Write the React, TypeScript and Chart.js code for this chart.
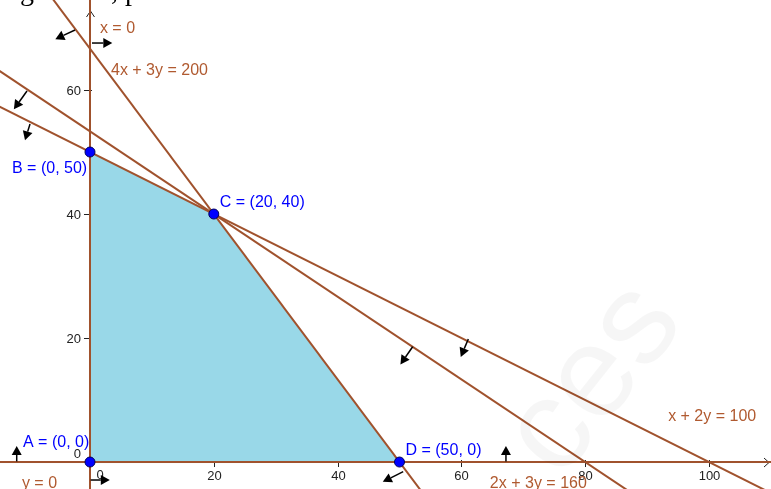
import { useEffect, useRef } from 'react';
import { Chart, registerables } from 'chart.js';

Chart.register(...registerables);

// ---- view window (data units) ----
const X_MIN = -14.54;
const X_MAX = 110.02;
const Y_MIN = -4.35;
const Y_MAX = 74.52;

// ---- axis ticks ----
const xTicks = [20, 40, 60, 80, 100];
const yTicks = [20, 40, 60];

// ---- feasible region & corners ----
const feasibleRegion = [
  { x: 0, y: 0 },
  { x: 0, y: 50 },
  { x: 20, y: 40 },
  { x: 50, y: 0 },
  { x: 0, y: 0 },
];
const cornerPoints = [
  { x: 0, y: 0 },
  { x: 0, y: 50 },
  { x: 20, y: 40 },
  { x: 50, y: 0 },
];
const cornerLabels = ['A = (0, 0)', 'B = (0, 50)', 'C = (20, 40)', 'D = (50, 0)'];

// ---- constraint lines (two far points each) ----
const lineX2Y100 = [{ x: -20, y: 60 }, { x: 120, y: -10 }];
const line2X3Y160 = [{ x: -20, y: 66.67 }, { x: 120, y: -26.67 }];
const line4X3Y200 = [{ x: -10, y: 80 }, { x: 65, y: -20 }];
const lineX0 = [{ x: 0, y: -10 }, { x: 0, y: 80 }];
const lineY0 = [{ x: -20, y: 0 }, { x: 120, y: 0 }];
const lineNames = ['x + 2y = 100', '2x + 3y = 160', '4x + 3y = 200', 'x = 0', 'y = 0'];

// ---- half-plane direction arrows (start on line -> end) ----
const arrowStarts = [
  { x: -2.42, y: 69.68 },
  { x: 0.32, y: 67.58 },
  { x: -10.18, y: 59.84 },
  { x: -9.69, y: 54.52 },
  { x: 52.13, y: 18.6 },
  { x: 61.12, y: 19.84 },
  { x: -11.84, y: 0.1 },
  { x: 67.2, y: 0.1 },
  { x: 0.1, y: -2.9 },
  { x: 50.6, y: -1.56 },
];
const arrowEnds = [
  { x: -5.6, y: 68.2 },
  { x: 3.6, y: 67.58 },
  { x: -12.3, y: 56.9 },
  { x: -10.5, y: 51.9 },
  { x: 50.15, y: 15.75 },
  { x: 59.9, y: 16.95 },
  { x: -11.84, y: 2.6 },
  { x: 67.2, y: 2.6 },
  { x: 3.2, y: -2.9 },
  { x: 47.3, y: -3.2 },
];

// ---- text annotation anchors (data units, left / middle) ----
const lineLabelAnchors = [
  { x: 93.4, y: 7.58 },
  { x: 64.6, y: -3.23 },
  { x: 3.39, y: 63.4 },
  { x: 1.6, y: 70.2 },
  { x: -11.0, y: -3.23 },
];
const cornerLabelOffsets = [
  { dx: -67, dy: -21 },
  { dx: -78, dy: 15 },
  { dx: 6, dy: -13 },
  { dx: 6, dy: -13 },
];

const BROWN = '#A0522D';
const BROWN_TEXT = '#B05A30';
const BLUE = 'rgb(0,0,255)';
const FONT = '"Liberation Sans", Arial, sans-serif';
const TEXT_SHIFT = 2;

const decorPlugin = {
  id: 'lpDecor',
  beforeDatasetsDraw(chart: any) {
    const { ctx } = chart;
    const xs = chart.scales.x;
    const ys = chart.scales.y;
    const ox = xs.getPixelForValue(0);
    const oy = ys.getPixelForValue(0);
    const W = chart.width;
    ctx.save();
    ctx.strokeStyle = '#222';
    ctx.fillStyle = '#222';
    ctx.lineWidth = 1;
    // axes
    ctx.beginPath();
    ctx.moveTo(0, oy + 0.5);
    ctx.lineTo(W - 2, oy + 0.5);
    ctx.moveTo(ox + 0.5, chart.height);
    ctx.lineTo(ox + 0.5, 11);
    ctx.stroke();
    // arrowheads (open)
    ctx.beginPath();
    ctx.moveTo(W - 7, oy - 4);
    ctx.lineTo(W - 2, oy + 0.5);
    ctx.lineTo(W - 7, oy + 5);
    ctx.moveTo(ox - 3.5, 17);
    ctx.lineTo(ox + 0.5, 11);
    ctx.lineTo(ox + 4.5, 17);
    ctx.stroke();
    // ticks and labels
    ctx.font = `13px ${FONT}`;
    ctx.textBaseline = 'middle';
    ctx.textAlign = 'center';
    xTicks.forEach((v) => {
      const px = Math.round(xs.getPixelForValue(v)) + 0.5;
      ctx.beginPath();
      ctx.moveTo(px, oy - 2);
      ctx.lineTo(px, oy + 5);
      ctx.stroke();
      ctx.fillText(String(v), px, oy + 14);
    });
    ctx.fillText('0', ox + 10, oy + 13);
    ctx.textAlign = 'right';
    yTicks.forEach((v) => {
      const py = Math.round(ys.getPixelForValue(v)) + 0.5;
      ctx.beginPath();
      ctx.moveTo(ox - 6, py);
      ctx.lineTo(ox + 2, py);
      ctx.stroke();
      ctx.fillText(String(v), ox - 9, py + 1);
    });
    ctx.fillText('0', ox - 9, oy - 8);
    ctx.restore();
  },
  afterDatasetsDraw(chart: any) {
    const { ctx } = chart;
    const xs = chart.scales.x;
    const ys = chart.scales.y;
    ctx.save();
    // direction arrows
    ctx.strokeStyle = '#000';
    ctx.fillStyle = '#000';
    ctx.lineWidth = 1.5;
    arrowStarts.forEach((s, i) => {
      const e = arrowEnds[i];
      const x1 = xs.getPixelForValue(s.x);
      const y1 = ys.getPixelForValue(s.y);
      const x2 = xs.getPixelForValue(e.x);
      const y2 = ys.getPixelForValue(e.y);
      const ang = Math.atan2(y2 - y1, x2 - x1);
      const hl = 9;
      const hw = 5;
      const bx = x2 - hl * Math.cos(ang);
      const by = y2 - hl * Math.sin(ang);
      ctx.beginPath();
      ctx.moveTo(x1, y1);
      ctx.lineTo(bx, by);
      ctx.stroke();
      ctx.beginPath();
      ctx.moveTo(x2, y2);
      ctx.lineTo(bx + hw * Math.sin(ang), by - hw * Math.cos(ang));
      ctx.lineTo(bx - hw * Math.sin(ang), by + hw * Math.cos(ang));
      ctx.closePath();
      ctx.fill();
    });
    // line labels
    ctx.font = `16px ${FONT}`;
    ctx.textBaseline = 'middle';
    ctx.textAlign = 'left';
    ctx.fillStyle = BROWN_TEXT;
    lineNames.forEach((t, i) => {
      const a = lineLabelAnchors[i];
      ctx.fillText(t, xs.getPixelForValue(a.x), ys.getPixelForValue(a.y) + TEXT_SHIFT);
    });
    // corner labels
    ctx.fillStyle = BLUE;
    cornerLabels.forEach((t, i) => {
      const p = cornerPoints[i];
      const o = cornerLabelOffsets[i];
      ctx.fillText(
        t,
        xs.getPixelForValue(p.x) + o.dx,
        ys.getPixelForValue(p.y) + o.dy + TEXT_SHIFT,
      );
    });
    // clipped page text at the top
    ctx.fillStyle = '#000';
    ctx.font = '28px "Liberation Serif", "Times New Roman", serif';
    ctx.textBaseline = 'alphabetic';
    ctx.fillText('g', 20, 0);
    ctx.fillText(', p', 111, 0);
    // faint watermark
    ctx.translate(595, 380);
    ctx.rotate(-0.9);
    ctx.fillStyle = 'rgba(0,0,0,0.035)';
    ctx.font = `130px ${FONT}`;
    ctx.textAlign = 'center';
    ctx.textBaseline = 'middle';
    ctx.fillText('ces', 0, 0);
    ctx.restore();
  },
};

export default function App() {
  const ref = useRef<HTMLCanvasElement>(null);
  useEffect(() => {
    document.body.style.margin = '0';
    const lineDs = (data: any[]) => ({
      data,
      showLine: true,
      fill: false,
      borderColor: BROWN,
      borderWidth: 2,
      pointRadius: 0,
      order: 2,
    });
    const chart = new Chart(ref.current as HTMLCanvasElement, {
      type: 'scatter',
      data: {
        datasets: [
          {
            data: feasibleRegion,
            showLine: true,
            fill: 'shape',
            backgroundColor: 'rgb(153,216,232)',
            borderColor: 'rgba(0,0,0,0)',
            borderWidth: 0,
            pointRadius: 0,
            order: 3,
          } as any,
          lineDs(lineX2Y100),
          lineDs(line2X3Y160),
          lineDs(line4X3Y200),
          lineDs(lineX0),
          lineDs(lineY0),
          {
            data: cornerPoints,
            showLine: false,
            pointRadius: 5,
            pointBackgroundColor: BLUE,
            pointBorderColor: 'rgb(0,0,90)',
            pointBorderWidth: 1,
            order: 1,
          } as any,
        ],
      },
      options: {
        animation: false,
        responsive: false,
        devicePixelRatio: window.devicePixelRatio || 1,
        layout: { padding: 0, autoPadding: false },
        plugins: { legend: { display: false }, tooltip: { enabled: false } },
        scales: {
          x: { type: 'linear', min: X_MIN, max: X_MAX, display: false },
          y: { type: 'linear', min: Y_MIN, max: Y_MAX, display: false },
        },
      },
      plugins: [decorPlugin],
    });
    return () => chart.destroy();
  }, []);
  return (
    <div style={{ width: 771, height: 489, background: '#fff' }}>
      <canvas ref={ref} width={771} height={489} />
    </div>
  );
}
